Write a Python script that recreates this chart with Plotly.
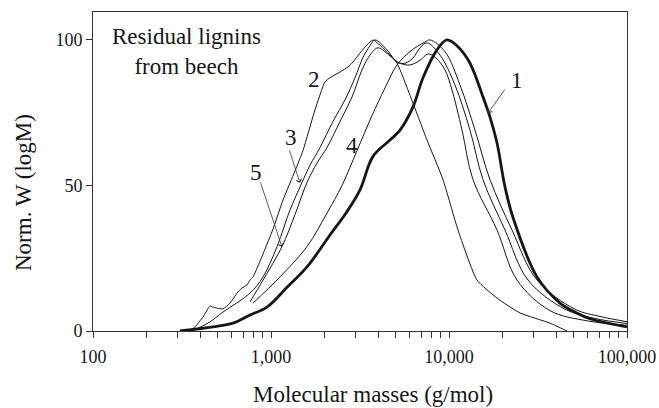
import plotly.graph_objects as go

# ---------------- data ----------------
# Curve 1 (bold)
m1 = [308, 472, 612, 762, 949, 1230, 1593, 2145, 2670, 3162, 3741, 4661, 5306, 6279, 7144, 8561, 9745,
      11300, 13122, 15524, 16995, 18612, 20636, 22885, 31217, 42036, 51050, 61960, 100000]
w1 = [0, 1.4, 2.7, 5.5, 8.2, 15, 22, 33, 41, 48.5, 60, 65.6, 69, 77, 87, 96.6, 100,
      97.5, 92, 80.4, 73.5, 64.6, 49.5, 39, 18.6, 9.6, 6.5, 4.2, 1.4]

# Curve 2
m2 = [351, 374, 415, 454, 472, 537, 589, 644, 687, 733, 762, 793, 868, 1026, 1168, 1364, 1513, 1767,
      2011, 2145, 2442, 2708, 2889, 3162, 3463, 3741, 4370, 5105, 6037, 7524, 9253, 11234, 14365,
      18612, 25058, 36942, 46030]
w2 = [0, 1.4, 4.8, 8.6, 8.2, 7.6, 9.6, 13, 14.8, 15.8, 17.5, 18.6, 24, 35, 45, 55, 62, 76,
      85.6, 87, 89, 90.7, 92.4, 95.5, 98.3, 100, 96.6, 92, 81, 65.6, 52, 34.7, 17.5,
      11.3, 6.2, 2.7, 0]

# Curve 3
m3 = [360, 450, 537, 762, 902, 1081, 1279, 1456, 1656, 1885, 2228, 2605, 2965, 3288, 3599, 3840,
      4485, 5105, 5658, 6279, 6873, 7524, 8901, 10806, 13122, 15524, 20636, 27787, 44850, 66120, 100000]
w3 = [0, 3, 6.5, 13, 18.6, 29, 41.6, 49.5, 57, 63, 72, 79.4, 87, 94, 98, 100,
      96.6, 92.4, 92, 93.8, 97.3, 99, 94.8, 84.5, 69, 52, 34.7, 17.5, 7.5, 4.3, 2.6]

# Curve 4
m4 = [793, 1124, 1593, 2063, 2506, 3043, 3693, 4370, 5105, 6037, 7333, 7822, 9495, 11531, 13998,
      16995, 22592, 31217, 51050, 70530, 100000]
w4 = [9.6, 18.6, 29, 40.5, 50, 62, 74, 83.5, 91.4, 96, 99.3, 100, 96, 84.5, 69,
      52, 34.7, 17.5, 7.5, 5, 3.2]

# Curve 5
m5 = [762, 902, 1153, 1364, 1593, 1813, 2063, 2442, 2852, 3245, 3599, 3992, 4661, 5306, 6037, 6873,
      7621, 8453, 9495, 10396, 11834, 13640, 18612, 24099, 36942, 59630, 100000]
w5 = [10, 17.5, 29, 40, 51, 57.7, 63, 72, 80.4, 89.7, 94.8, 97.3, 94.5, 92, 91.4, 93,
      95.2, 93.8, 89.7, 82.8, 69, 52, 34.7, 17.5, 7, 3.5, 2.0]

x_major = [100, 1000, 10000, 100000]
x_major_labels = ["100", "1,000", "10,000", "100,000"]
y_ticks = [0, 50, 100]

x_title = "Molecular masses (g/mol)"
y_title = "Norm. W (logM)"
note = "Residual lignins<br>from beech"

# ---------------- figure ----------------
INK = "#161616"
FONT = "Liberation Serif"

fig = go.Figure()
series = [
    (m2, w2, 1.0, 0.5),
    (m3, w3, 1.0, 1.0),
    (m5, w5, 1.0, 1.0),
    (m4, w4, 1.0, 1.0),
    (m1, w1, 2.8, 1.0),
]
for m, w, lw, sm in series:
    fig.add_trace(go.Scatter(x=m, y=w, mode="lines",
                             line=dict(color=INK, width=lw, shape="spline", smoothing=sm),
                             showlegend=False, hoverinfo="skip"))

tickvals, ticktext = [], []
for i, d in enumerate(x_major):
    tickvals.append(d)
    ticktext.append(x_major_labels[i])
    if i < len(x_major) - 1:
        for k in range(2, 10):
            tickvals.append(d * k)
            ticktext.append("")

fig.update_xaxes(type="log", range=[2, 5], tickvals=tickvals, ticktext=ticktext,
                 ticks="outside", ticklen=6, tickwidth=1, tickcolor="#333", ticklabelstandoff=3,
                 showline=True, linecolor="#333", linewidth=1, mirror=True, automargin=False,
                 showgrid=False, zeroline=False, tickfont=dict(size=18, family=FONT, color=INK))
fig.update_yaxes(range=[0, 109.6], tickvals=y_ticks, ticks="outside", ticklen=6, tickwidth=1,
                 tickcolor="#333", showline=True, linecolor="#333", linewidth=1, mirror=True,
                 automargin=False,
                 showgrid=False, zeroline=False, tickfont=dict(size=18, family=FONT, color=INK))

def txt(text, xp, yp, size, **kw):
    d = dict(text=text, xref="paper", yref="paper", x=xp, y=yp, showarrow=False,
             xanchor="center", yanchor="middle", font=dict(size=size, family=FONT, color=INK))
    d.update(kw)
    return d

ann = []
ann.append(txt(y_title, -0.129, 0.433, 23, textangle=-90))
ann.append(txt(x_title, 0.524, -0.2006, 23))
ann.append(txt(note, 0.176, 0.875, 23, align="center"))
labels = [("1", 0.794, 0.784), ("2", 0.414, 0.787), ("3", 0.371, 0.608),
          ("4", 0.485, 0.580), ("5", 0.305, 0.498)]
for t, xp, yp in labels:
    ann.append(txt(t, xp, yp, 23))
arrows = [(0.7397, 0.6834, 18, -25), (0.3876, 0.4639, -11, -34), (0.3539, 0.2633, -22, -66)]
for xp, yp, ax, ay in arrows:
    ann.append(dict(text="", xref="paper", yref="paper", x=xp, y=yp, ax=ax, ay=ay,
                    showarrow=True, arrowhead=4, arrowsize=1.3, arrowwidth=0.8, arrowcolor="#333"))

fig.update_layout(width=659, height=408, margin=dict(l=93, r=32, t=12, b=77, autoexpand=False),
                  paper_bgcolor="white", plot_bgcolor="white",
                  font=dict(family=FONT, color=INK, size=18),
                  showlegend=False, annotations=ann)

fig.write_html("out.html", config={"displayModeBar": False},
               post_script="document.body.style.margin='0';")
